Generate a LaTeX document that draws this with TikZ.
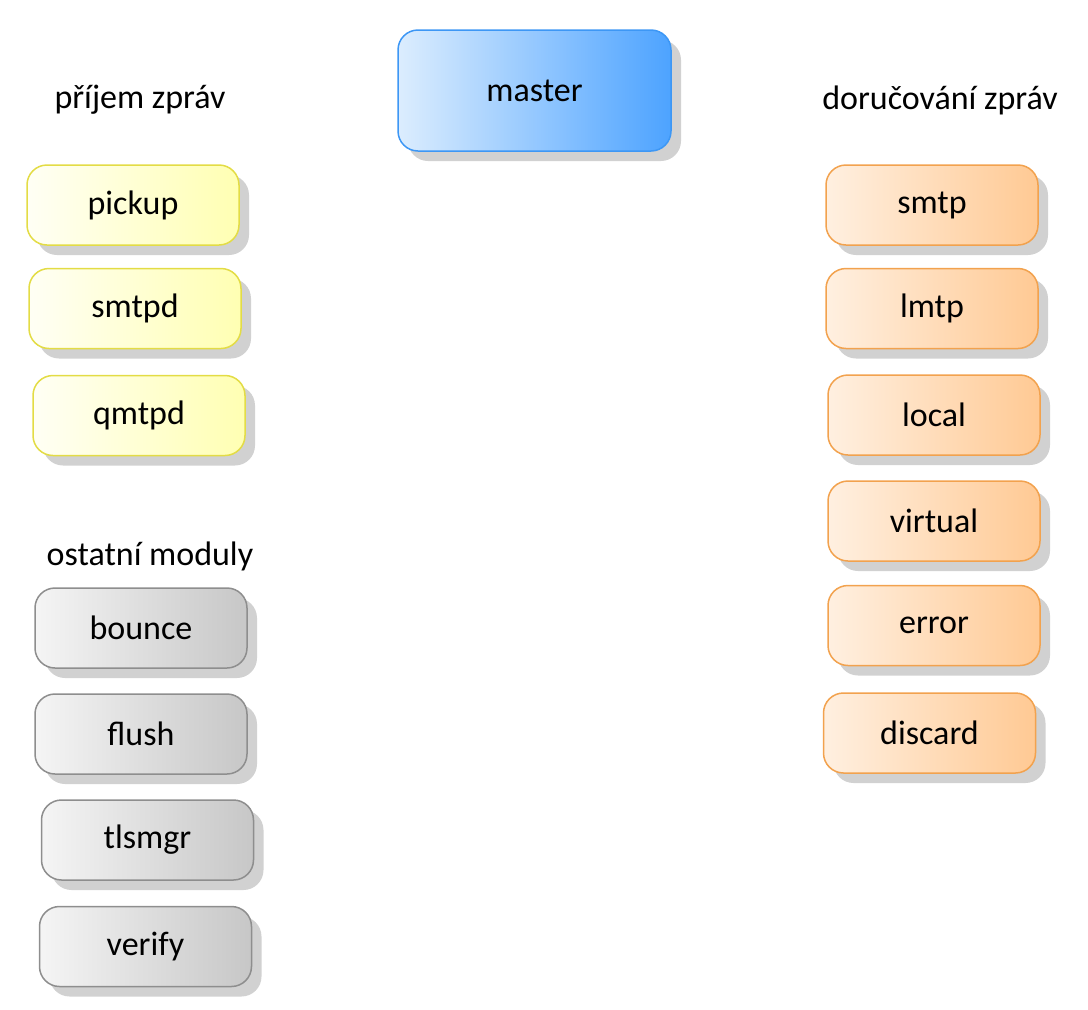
\documentclass[tikz,border=0pt]{standalone}
\usepackage{fontspec}
\setmainfont{Carlito}
\usetikzlibrary{shadows}
\definecolor{masterline}{HTML}{3D97F5}
\definecolor{masterleft}{HTML}{DCEDFE}
\definecolor{masterright}{HTML}{4DA3FF}
\definecolor{inline}{HTML}{E3DC45}
\definecolor{outline}{HTML}{F2A24E}
\definecolor{otherline}{HTML}{8E8E8E}

\begin{document}
\begin{tikzpicture}[line cap=round,line join=round,x=1pt,y=-1pt,
  box/.style={rounded corners=20pt,minimum width=212pt,minimum height=80pt,
    font=\fontsize{34}{40}\selectfont,line width=1.5pt,
    drop shadow={shadow xshift=10pt,shadow yshift=-10pt,fill=black!18,opacity=1}},
  inbox/.style={box,draw=inline,left color=yellow!4,right color=yellow!30},
  outbox/.style={box,draw=outline,left color=orange!12,right color=orange!42},
  otherbox/.style={box,draw=otherline,left color=black!4,right color=black!22},
  heading/.style={font=\fontsize{34}{40}\selectfont}]
\useasboundingbox (0,0) rectangle (1088,1010);
\node [box,draw=masterline,left color=masterleft,right color=masterright,
  minimum width=273pt,minimum height=121pt] (master) at (534.5,90.5) {master};
% prijem
\node [heading] (prijem) at (140,100) {příjem zpráv};
\node [inbox] (pickup) at (133,205) {pickup};
\node [inbox] (smtpd) at (135,308.5) {smtpd};
\node [inbox] (qmtpd) at (139,415.5) {qmtpd};
% ostatni
\node [heading] (ostatni) at (150,556) {ostatní moduly};
\node [otherbox] (bounce) at (141,628) {bounce};
\node [otherbox] (flush) at (141,734) {flush};
\node [otherbox] (tlsmgr) at (147.5,840) {tlsmgr};
\node [otherbox] (verify) at (145.5,946.5) {verify};
% doruceni
\node [heading] (doruceni) at (940,100) {doručování zpráv};
\node [outbox] (smtp) at (932,205) {smtp};
\node [outbox] (lmtp) at (932,308.5) {lmtp};
\node [outbox] (local) at (934,415) {local};
\node [outbox] (virtual) at (934,521) {virtual};
\node [outbox] (error) at (934,625.5) {error};
\node [outbox] (discard) at (929.5,733) {discard};
\end{tikzpicture}
\end{document}
